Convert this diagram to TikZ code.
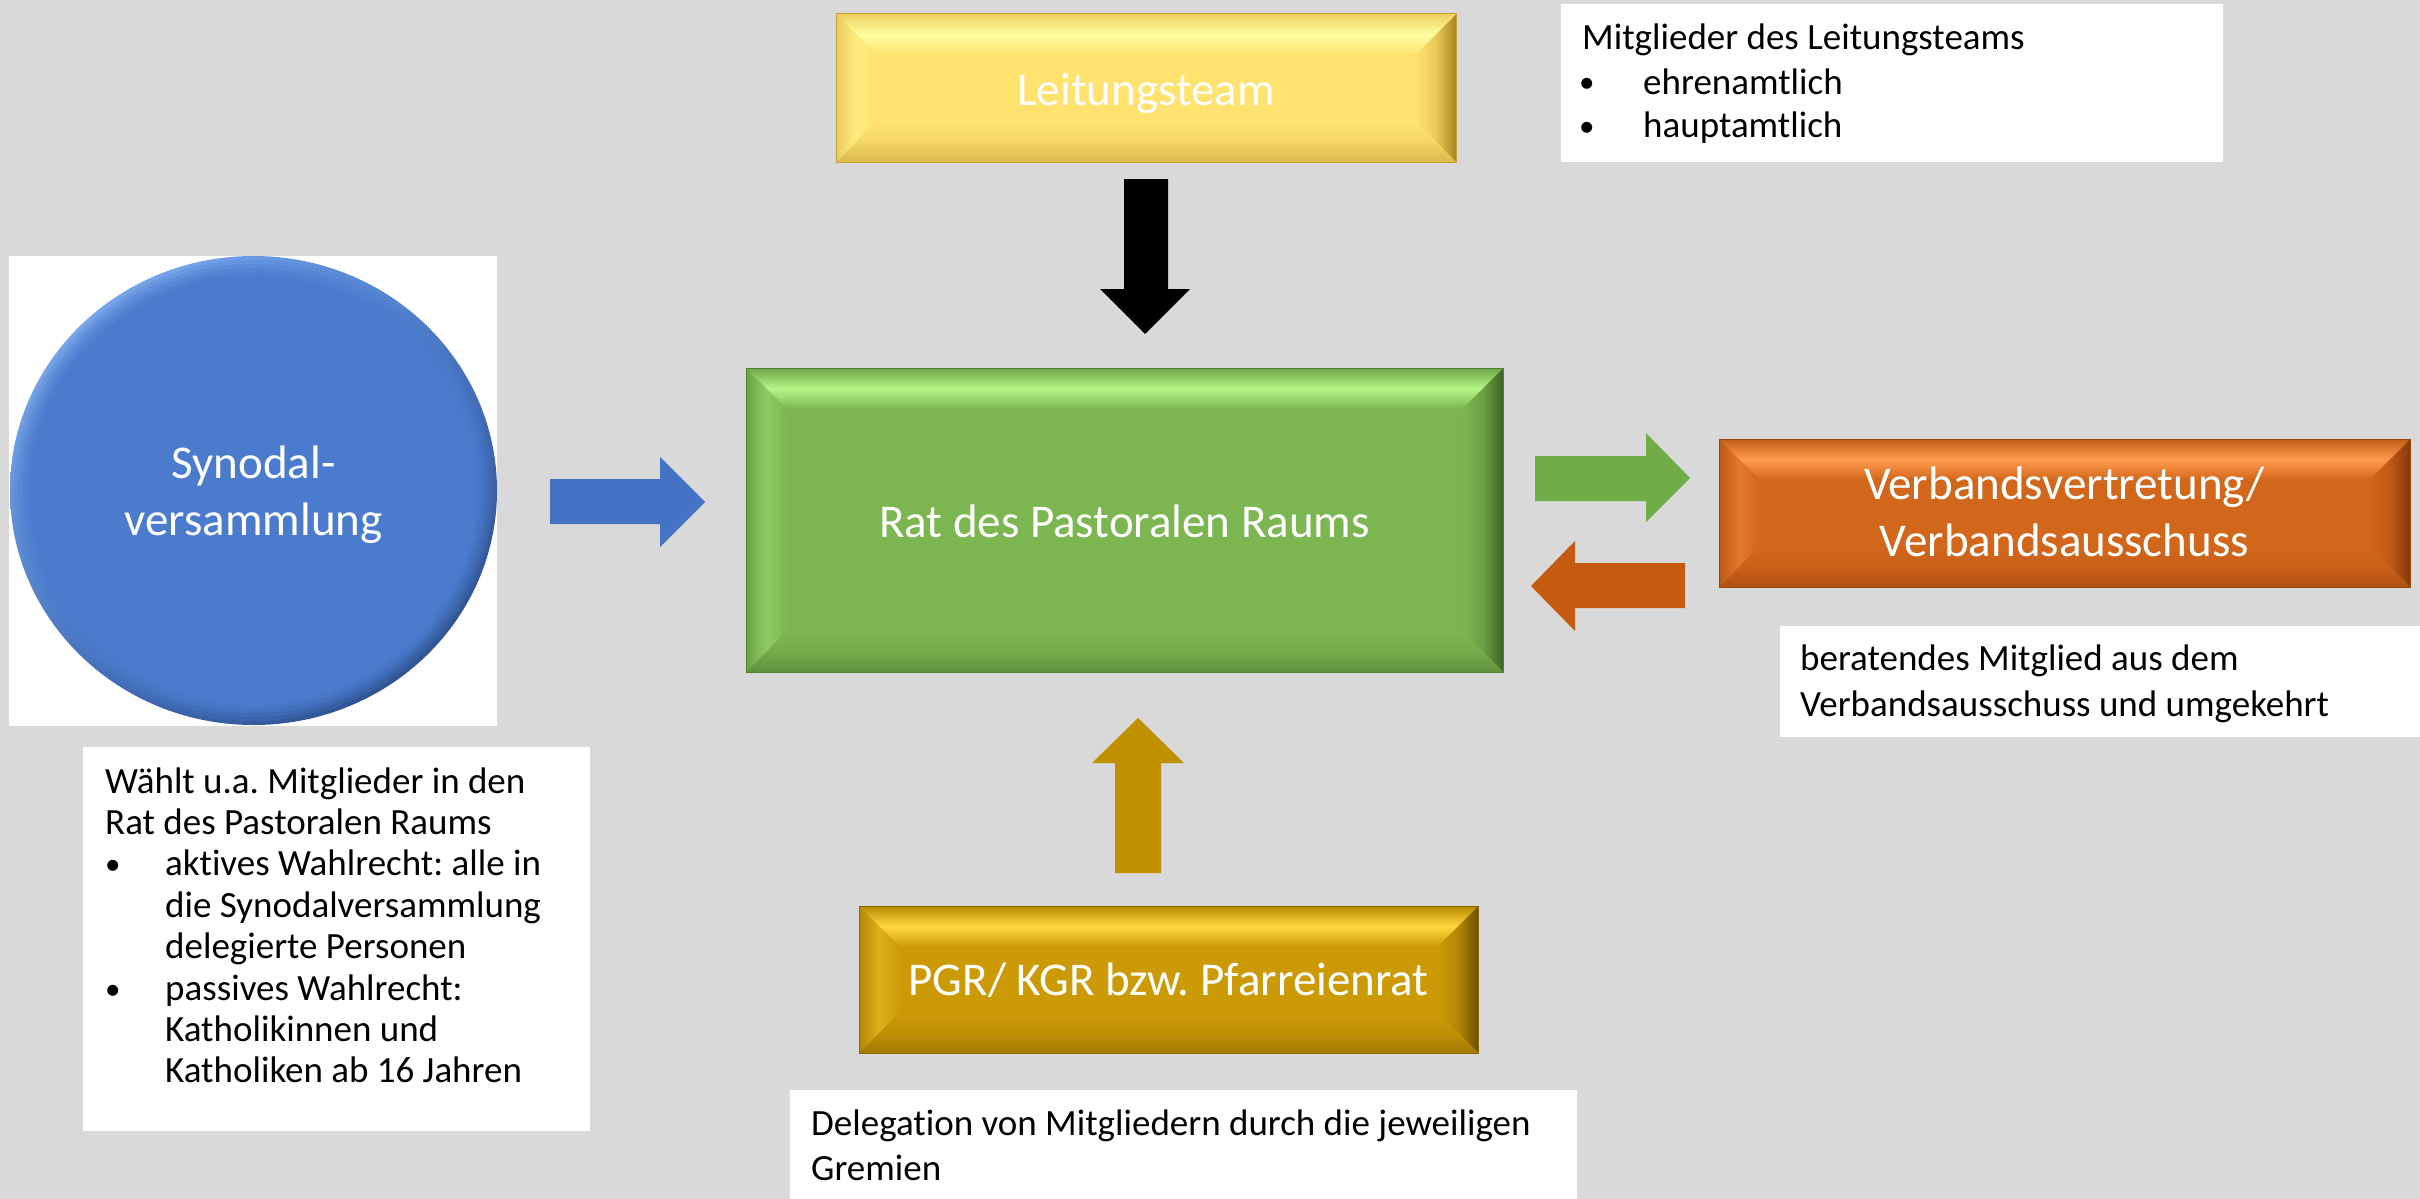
\documentclass[tikz,border=0pt]{standalone}
\usepackage{fontspec}
\setmainfont{Carlito}[Ligatures=NoCommon]
\usetikzlibrary{calc,shapes.geometric,shadings}
\definecolor{bg}{HTML}{D9D9D9}
\definecolor{ymain}{HTML}{FFE36E}
\definecolor{ylight}{HTML}{FFFFA0}
\definecolor{ydark}{HTML}{A8841E}
\definecolor{gmain}{HTML}{7CB650}
\definecolor{glight}{HTML}{B4F687}
\definecolor{gdark}{HTML}{3A6623}
\definecolor{omain}{HTML}{D2661B}
\definecolor{olight}{HTML}{FF9C4E}
\definecolor{odark}{HTML}{84380A}
\definecolor{pmain}{HTML}{CC9A06}
\definecolor{plight}{HTML}{FFD83E}
\definecolor{pdark}{HTML}{6E5000}
\definecolor{cmain}{HTML}{4A7BCD}
\definecolor{clight}{HTML}{8CB8F8}
\definecolor{cdark}{HTML}{26467F}
\definecolor{abl}{HTML}{4472C4}
\definecolor{agr}{HTML}{70AD47}
\definecolor{aor}{HTML}{C55A11}
\definecolor{ago}{HTML}{BF9000}
\newcommand\mybul[2]{\makebox[#1][l]{\hspace{#2}\raisebox{1pt}{\fontsize{31}{31}\selectfont •}}}
\begin{document}
\frenchspacing
\begin{tikzpicture}[x=1pt,y=-1pt,
  bevel/.style n args={3}{fill=#1, draw=#3!70!#1, line width=1pt, inner sep=0,
    path picture={
      \path (path picture bounding box.north west) coordinate (ppnw)
            (path picture bounding box.north east) coordinate (ppne)
            (path picture bounding box.south west) coordinate (ppsw)
            (path picture bounding box.south east) coordinate (ppse);
      \shade[left color=#1!75!#3, right color=#1, middle color=#1!65!#2]
        (ppnw) -- ($(ppnw)+(41,41)$) -- ($(ppsw)+(41,-41)$) -- (ppsw) -- cycle;
      \shade[left color=#1, right color=#3, middle color=#1!75!#3]
        (ppne) -- ($(ppne)+(-41,41)$) -- ($(ppse)+(-41,-41)$) -- (ppse) -- cycle;
      \shade[top color=#1!80!#3, bottom color=#1, middle color=#2]
        (ppnw) -- (ppne) -- ($(ppne)+(-41,41)$) -- ($(ppnw)+(41,41)$) -- cycle;
      \shade[top color=#1, bottom color=#1!55!#3, middle color=#1!88!#3]
        (ppsw) -- (ppse) -- ($(ppse)+(-41,-41)$) -- ($(ppsw)+(41,-41)$) -- cycle;
    }},
  bigtext/.style={text=white, font=\fontsize{47}{57}\selectfont, inner sep=0, anchor=base},
  smalltext/.style={text=black, inner sep=0, anchor=base west},
  whitebox/.style={fill=white, draw=none, inner sep=0},
  rim/.style={upper left=clight!#1!cmain, upper right=cmain, lower left=cmain!80!cdark!#1!cmain, lower right=cdark!#1!cmain},
]
\fill[bg] (0,0) rectangle (2420,1199);
\useasboundingbox (0,0) rectangle (2420,1199);

% white text boxes
\node[whitebox, minimum width=662, minimum height=158] (tlbox) at (1892,83) {};
\node[whitebox, minimum width=640, minimum height=111] (vbox) at (2100,681.5) {};
\node[whitebox, minimum width=787, minimum height=109] (dbox) at (1183.5,1144.5) {};
\node[whitebox, minimum width=507, minimum height=384] (wbox) at (336.5,939) {};
\node[whitebox, minimum width=488, minimum height=470] (sbox) at (253,491) {};

% circle
\node[ellipse, minimum width=487, minimum height=469, inner sep=0,
      shade, rim=100] (syn) at (253.5,490.5) {};
\shade[rim=75] (syn.center) ellipse [x radius=239.5, y radius=230.5];
\shade[rim=50] (syn.center) ellipse [x radius=235.5, y radius=226.5];
\shade[rim=28] (syn.center) ellipse [x radius=231.5, y radius=222.5];
\shade[rim=12] (syn.center) ellipse [x radius=227.5, y radius=218.5];
\fill[cmain] (syn.center) ellipse [x radius=223.5, y radius=214.5];
\node[bigtext] (synt) at (253.5,478) {\parbox[t]{420pt}{\centering Synodal-\\versammlung}};

% bevel boxes
\node[bevel={ymain}{ylight}{ydark}, minimum width=620, minimum height=148] (leit) at (1146,88) {};
\node[bigtext] (leitt) at (leit.center |- 0,105) {Leitungsteam};

\node[bevel={gmain}{glight}{gdark}, minimum width=757, minimum height=304] (rat) at (1124.5,520) {};
\node[bigtext] (ratt) at (rat.center |- 0,537) {Rat des Pastoralen Raums};

\node[bevel={omain}{olight}{odark}, minimum width=691, minimum height=148] (verb) at (2064.5,513) {};
\node[bigtext] (verbt) at (verb.center |- 0,499) {\parbox[t]{600pt}{\centering Verbandsvertretung/\\Verbandsausschuss}};

\node[bevel={pmain}{plight}{pdark}, minimum width=619, minimum height=147] (pgr) at (1168.5,979.5) {};
\node[bigtext] (pgrt) at (pgr.center |- 0,995) {PGR/ KGR bzw. Pfarreienrat};

% block arrows
\fill[abl] (550,479) -- (660,479) -- (660,457) -- (705,502) -- (660,547) -- (660,524) -- (550,524) -- cycle;
\fill[black] (1124,179) -- (1168,179) -- (1168,289) -- (1190,289) -- (1145,334) -- (1100,289) -- (1124,289) -- cycle;
\fill[agr] (1535,456) -- (1646,456) -- (1646,433) -- (1690,478) -- (1646,522) -- (1646,501) -- (1535,501) -- cycle;
\fill[aor] (1685,563) -- (1575,563) -- (1575,541) -- (1531,586) -- (1575,631) -- (1575,608) -- (1685,608) -- cycle;
\fill[ago] (1115,873) -- (1115,763) -- (1092,763) -- (1138,718) -- (1184,763) -- (1161,763) -- (1161,873) -- cycle;

% small texts
\node[smalltext, font=\fontsize{37}{44}\selectfont] (tlt) at (1582,50)
  {\parbox[t]{620pt}{Mitglieder des Leitungsteams\\
   \mybul{61pt}{-3pt}ehrenamtlich\\
   \mybul{61pt}{-3pt}hauptamtlich}};
\node[smalltext, font=\fontsize{37}{46}\selectfont] (vt) at (1800,670)
  {\parbox[t]{610pt}{beratendes Mitglied aus dem\\Verbandsausschuss und umgekehrt}};
\node[smalltext, font=\fontsize{37}{45}\selectfont] (dt) at (811,1135)
  {\parbox[t]{760pt}{Delegation von Mitgliedern durch die jeweiligen\\Gremien}};
\node[smalltext, font=\fontsize{37}{41.4}\selectfont] (wt) at (105,793)
  {\parbox[t]{480pt}{Wählt u.a. Mitglieder in den\\
   Rat des Pastoralen Raums\\
   \mybul{60pt}{0pt}aktives Wahlrecht: alle in\\
   \hspace*{60pt}die Synodalversammlung\\
   \hspace*{60pt}delegierte Personen\\
   \mybul{60pt}{0pt}passives Wahlrecht:\\
   \hspace*{60pt}Katholikinnen und\\
   \hspace*{60pt}Katholiken ab 16 Jahren}};
\end{tikzpicture}
\end{document}
